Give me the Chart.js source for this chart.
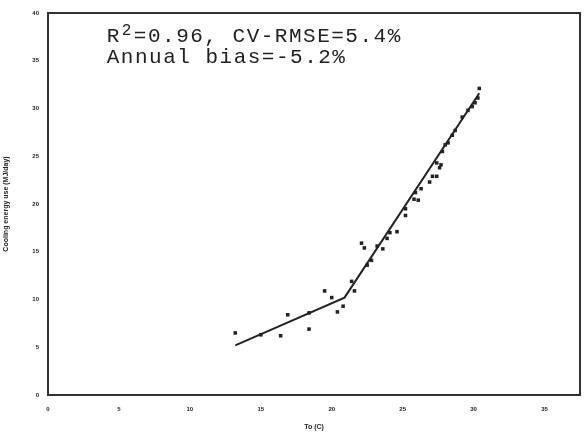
<!DOCTYPE html>
<html>
<head>
<meta charset="utf-8">
<title>Cooling energy use vs To</title>
<script src="https://cdn.jsdelivr.net/npm/chart.js@4/dist/chart.umd.min.js"></script>
<style>
  html, body { margin: 0; padding: 0; background: #fff; }
  #wrap { width: 584px; height: 435px; }
</style>
</head>
<body>
<div id="wrap"><canvas id="c" width="584" height="435"></canvas></div>
<script>
// measured daily points (To in C, cooling energy)
const measX = [13.2, 15.0, 16.4, 16.9, 18.4, 18.4, 19.5, 20.0, 20.4, 20.8, 21.4, 21.6,
  22.1, 22.3, 22.5, 22.8, 23.2, 23.6, 23.9, 24.1, 24.6, 25.2, 25.2, 25.8, 26.1, 25.9,
  26.3, 26.9, 27.1, 27.4, 27.6, 27.4, 27.8, 27.7, 28.0, 28.2, 28.5, 28.7, 29.2, 29.6,
  29.9, 30.1, 30.3, 30.4];
const measY = [6.5, 6.3, 6.2, 8.4, 6.9, 8.6, 10.9, 10.2, 8.7, 9.3, 11.9, 10.9,
  15.9, 15.4, 13.6, 14.1, 15.6, 15.3, 16.4, 17.0, 17.1, 18.8, 19.5, 20.5, 20.4, 21.2,
  21.6, 22.3, 22.9, 22.9, 23.8, 24.3, 25.5, 24.1, 26.2, 26.4, 27.2, 27.7, 29.1, 29.8,
  30.2, 30.6, 31.1, 32.1];

// change-point model line
const fitX = [13.2, 20.9, 30.4];
const fitY = [5.2, 10.2, 31.6];

const xTicks = [0, 5, 10, 15, 20, 25, 30, 35];
const yTicks = [0, 5, 10, 15, 20, 25, 30, 35, 40];

const statLine1 = ['R', '2', '=0.96, CV-RMSE=5.4%'];
const statLine2 = 'Annual bias=-5.2%';

const ink = '#222';

const framePlugin = {
  id: 'frame',
  afterDraw(chart) {
    const { ctx, chartArea: a } = chart;
    ctx.save();
    ctx.strokeStyle = '#333';
    ctx.lineWidth = 2;
    ctx.strokeRect(a.left, a.top, a.right - a.left, a.bottom - a.top);
    ctx.restore();
  }
};

// typewriter style text, fixed pitch like the original printout
function typeText(ctx, str, x, y, pitch) {
  for (const ch of str) {
    const w = ctx.measureText(ch).width;
    ctx.fillText(ch, x + (pitch - w) / 2, y);
    x += pitch;
  }
  return x;
}

const statsPlugin = {
  id: 'stats',
  afterDraw(chart) {
    const ctx = chart.ctx;
    const pitch = 14.1;
    ctx.save();
    ctx.fillStyle = ink;
    ctx.textBaseline = 'alphabetic';
    ctx.font = '21px "Liberation Mono"';
    let x = typeText(ctx, statLine1[0], 106, 42, pitch);
    ctx.font = '16px "Liberation Mono"';
    typeText(ctx, statLine1[1], x + 1, 35, 11);
    ctx.font = '21px "Liberation Mono"';
    typeText(ctx, statLine1[2], x + 13, 42, pitch);
    typeText(ctx, statLine2, 106, 63, pitch);
    ctx.restore();
  }
};

const tickFont = { family: 'Arial, "Liberation Sans"', size: 6, weight: 'bold' };

new Chart(document.getElementById('c'), {
  type: 'scatter',
  data: {
    datasets: [
      {
        label: 'Measured',
        data: measX.map((x, i) => ({ x, y: measY[i] })),
        pointStyle: 'rect',
        pointRadius: 2.5,
        backgroundColor: ink,
        borderColor: ink,
        borderWidth: 0
      },
      {
        label: 'Model',
        type: 'line',
        data: fitX.map((x, i) => ({ x, y: fitY[i] })),
        borderColor: ink,
        borderWidth: 2,
        pointRadius: 0,
        fill: false,
        tension: 0
      }
    ]
  },
  options: {
    responsive: false,
    animation: false,
    layout: { padding: { top: 13, right: 4, bottom: 0, left: 0 } },
    plugins: { legend: { display: false }, tooltip: { enabled: false } },
    scales: {
      x: {
        type: 'linear',
        min: 0,
        max: 37.5,
        afterBuildTicks: s => { s.ticks = xTicks.map(v => ({ value: v })); },
        afterFit: s => { s.height = 40; },
        grid: { display: false, drawTicks: true, tickLength: 3, color: '#333' },
        border: { display: false },
        ticks: { color: ink, font: tickFont, padding: 8, maxRotation: 0 },
        title: { display: true, text: 'To (C)', color: ink, font: { family: 'Arial', size: 7, weight: 'bold' }, padding: { top: 2, bottom: 4 } }
      },
      y: {
        type: 'linear',
        min: 0,
        max: 40,
        afterBuildTicks: s => { s.ticks = yTicks.map(v => ({ value: v })); },
        afterFit: s => { s.width = 48; },
        grid: { display: false, drawTicks: true, tickLength: 3, color: '#333' },
        border: { display: false },
        ticks: { color: ink, font: tickFont, padding: 6 },
        title: { display: true, text: 'Cooling energy use (MJ/day)', color: ink, font: { family: 'Arial', size: 7, weight: 'bold' }, padding: { top: 2, bottom: 2 } }
      }
    }
  },
  plugins: [framePlugin, statsPlugin]
});
</script>
</body>
</html>
